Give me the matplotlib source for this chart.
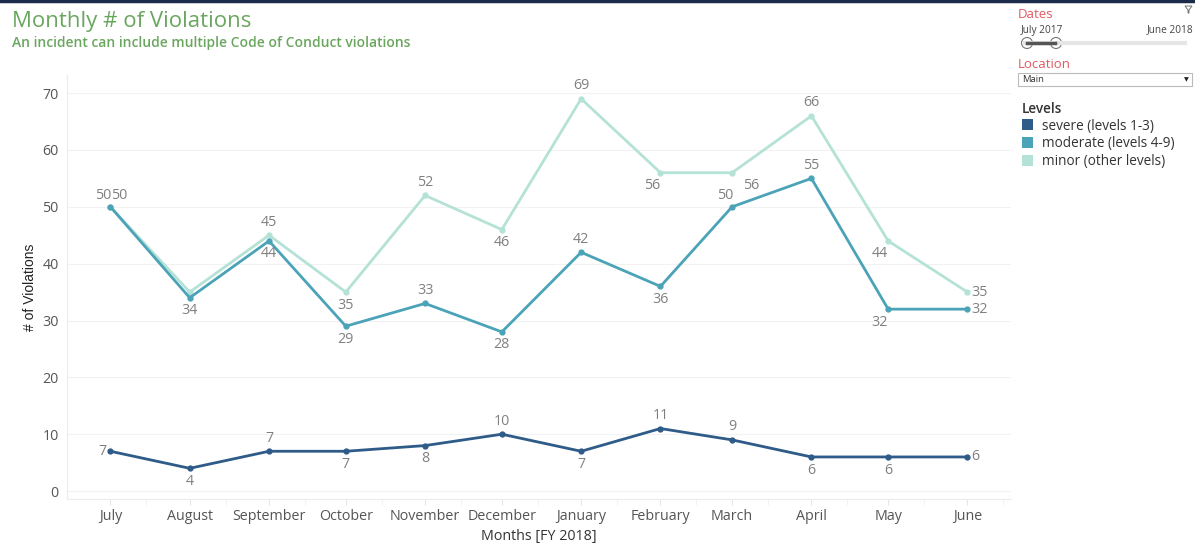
import numpy as np
import pandas as pd
import matplotlib
matplotlib.use("Agg")
from matplotlib import pyplot as plt
import matplotlib.dates as mdates
from matplotlib.patches import Patch, Rectangle, Ellipse, Polygon
from matplotlib.lines import Line2D

#%% Données
months = pd.date_range("2017-07-01", "2018-06-01", freq="MS")
month_names = ["July", "August", "September", "October", "November", "December",
               "January", "February", "March", "April", "May", "June"]

severe = [7, 4, 7, 7, 8, 10, 7, 11, 9, 6, 6, 6]
moderate = [50, 34, 44, 29, 33, 28, 42, 36, 50, 55, 32, 32]
minor = [50, 35, 45, 35, 52, 46, 69, 56, 56, 66, 44, 35]

series_names = ["severe (levels 1-3)", "moderate (levels 4-9)", "minor (other levels)"]
colors = ["#2f5b88", "#4ba3b8", "#b5e2d6"]

# placement des étiquettes (a=au-dessus, b=en dessous, l=gauche, r=droite, None=masquée)
place_severe = ["l", "b", "a", "b", "b", "a", "b", "a", "a", "b", "b", "r"]
place_moderate = ["al", "b", "b", "b", "a", "b", "a", "b", "al", "a", "bl", "r"]
place_minor = ["ar", None, "a", "b", "a", "b", "a", "bl", "br", "a", "bl", "r"]

#%% Figure
font = "Open Sans"
plt.rcParams["font.family"] = [font, "DejaVu Sans"]

fig = plt.figure(figsize=(11.95, 5.43), dpi=100)
ax = fig.add_axes([0.056, 0.081, 0.79, 0.781])

x = mdates.date2num(months)
label_color = "#808080"
offsets = {"a": (0, 4, "center", "bottom"), "b": (0, -4, "center", "top"),
           "l": (-3, 0, "right", "center"), "r": (3, 0, "left", "center"),
           "al": (0.6, 3, "right", "bottom"), "ar": (0.6, 3, "left", "bottom"),
           "bl": (-6, -4, "center", "top"), "br": (14, -4, "center", "top")}

for vals, col, places in [(minor, colors[2], place_minor),
                          (moderate, colors[1], place_moderate),
                          (severe, colors[0], place_severe)]:
    ax.plot(x, vals, color=col, lw=2.0, marker="o", ms=3.5, solid_capstyle="round")
    for xi, v, p in zip(x, vals, places):
        if p is None:
            continue
        dx, dy, ha, va = offsets[p]
        ax.annotate(str(v), (xi, v), xytext=(dx, dy), textcoords="offset points",
                    ha=ha, va=va, fontsize=10.3, color=label_color)

ax.set_xlim(mdates.date2num(pd.Timestamp("2017-06-14")),
            mdates.date2num(pd.Timestamp("2018-06-18")))
ax.set_ylim(-1.4, 73.2)
ax.set_yticks(np.arange(0, 71, 10))
ax.set_xticks(x)
ax.set_xticklabels(month_names)
ax.set_xticks(mdates.date2num(months + pd.Timedelta(days=14)), minor=True)

ax.grid(axis="y", color="#f2f2f2", lw=0.8)
for s in ["top", "right"]:
    ax.spines[s].set_visible(False)
for s in ["left", "bottom"]:
    ax.spines[s].set_color("#ececec")
ax.tick_params(axis="y", length=0, labelsize=10.3, labelcolor="#555555", pad=6)
ax.tick_params(axis="x", which="major", length=4, color="#e6e6e6",
               labelsize=10.3, labelcolor="#555555", pad=3)
ax.tick_params(axis="x", which="minor", length=4, color="#f0f0f0")

ax.set_ylabel("# of Violations", fontsize=10, color="#222222",
              family=["Liberation Sans Narrow", "Liberation Sans", "DejaVu Sans"], labelpad=4)
ax.set_xlabel("Months [FY 2018]", fontsize=10.3, color="#333333", labelpad=4)

#%% Titres
fig.text(12 / 1195, 1 - 22 / 543, "Monthly # of Violations", fontsize=16,
         color="#6aa75e", va="center")
fig.text(12 / 1195, 1 - 43 / 543, "An incident can include multiple Code of Conduct violations",
         fontsize=10, color="#6aa75e", va="center", fontweight="semibold")

fig.add_artist(Line2D([0, 1], [1 - 1 / 543, 1 - 1 / 543], color="#1d2b4a", lw=2.5))

#%% Panneau de droite (filtres + légende)
red = "#e05a62"
fig.text(1018 / 1195, 1 - 14 / 543, "Dates", fontsize=9.5, color=red, va="center")
fig.text(1021 / 1195, 1 - 30 / 543, "July 2017", fontsize=7.3, color="#444444", va="center")
fig.text(1193 / 1195, 1 - 30 / 543, "June 2018", fontsize=7.3, color="#444444",
         va="center", ha="right")
# icône de filtre
fx, fy = 1185, 6
fig.add_artist(Polygon([((fx) / 1195, 1 - fy / 543), ((fx + 7) / 1195, 1 - fy / 543),
                        ((fx + 4) / 1195, 1 - (fy + 4) / 543), ((fx + 4) / 1195, 1 - (fy + 7) / 543),
                        ((fx + 3) / 1195, 1 - (fy + 7) / 543), ((fx + 3) / 1195, 1 - (fy + 4) / 543)],
                       closed=True, transform=fig.transFigure, facecolor="none",
                       edgecolor="#777777", lw=0.7))
ty = 1 - 43 / 543
fig.add_artist(Line2D([1025 / 1195, 1185 / 1195], [ty, ty], color="#e6e6e6", lw=3))
fig.add_artist(Line2D([1027 / 1195, 1055 / 1195], [ty, ty], color="#555555", lw=2.5))
for hx in [1027, 1056]:
    fig.add_artist(Ellipse((hx / 1195, ty), 11 / 1195, 11 / 543, transform=fig.transFigure,
                           facecolor="white", edgecolor="#777777", lw=0.8))

fig.text(1018 / 1195, 1 - 65 / 543, "Location", fontsize=9.5, color=red, va="center")
fig.add_artist(Rectangle((1018 / 1195, 1 - 86 / 543), 174 / 1195, 13 / 543,
                         transform=fig.transFigure, facecolor="white",
                         edgecolor="#bbbbbb", lw=0.8))
fig.text(1022 / 1195, 1 - 79.5 / 543, "Main", fontsize=6.8, color="#333333", va="center")
fig.text(1186 / 1195, 1 - 79.5 / 543, "▼", fontsize=4.5, color="#222222",
         va="center", ha="center", family="DejaVu Sans")

handles = [Patch(facecolor=c, edgecolor="none") for c in colors]
leg = fig.legend(handles, series_names, title="Levels", loc="upper left",
                 bbox_to_anchor=(1011 / 1195, 1 - 91 / 543), frameon=False,
                 fontsize=9.8, title_fontsize=9.8, alignment="left",
                 handlelength=0.85, handleheight=0.85, handletextpad=0.6,
                 labelspacing=0.2, borderpad=0.3)
leg.get_title().set_fontweight("semibold")
leg.get_title().set_color("#333333")
for t in leg.get_texts():
    t.set_color("#333333")

fig.savefig("out.png", dpi=100)
